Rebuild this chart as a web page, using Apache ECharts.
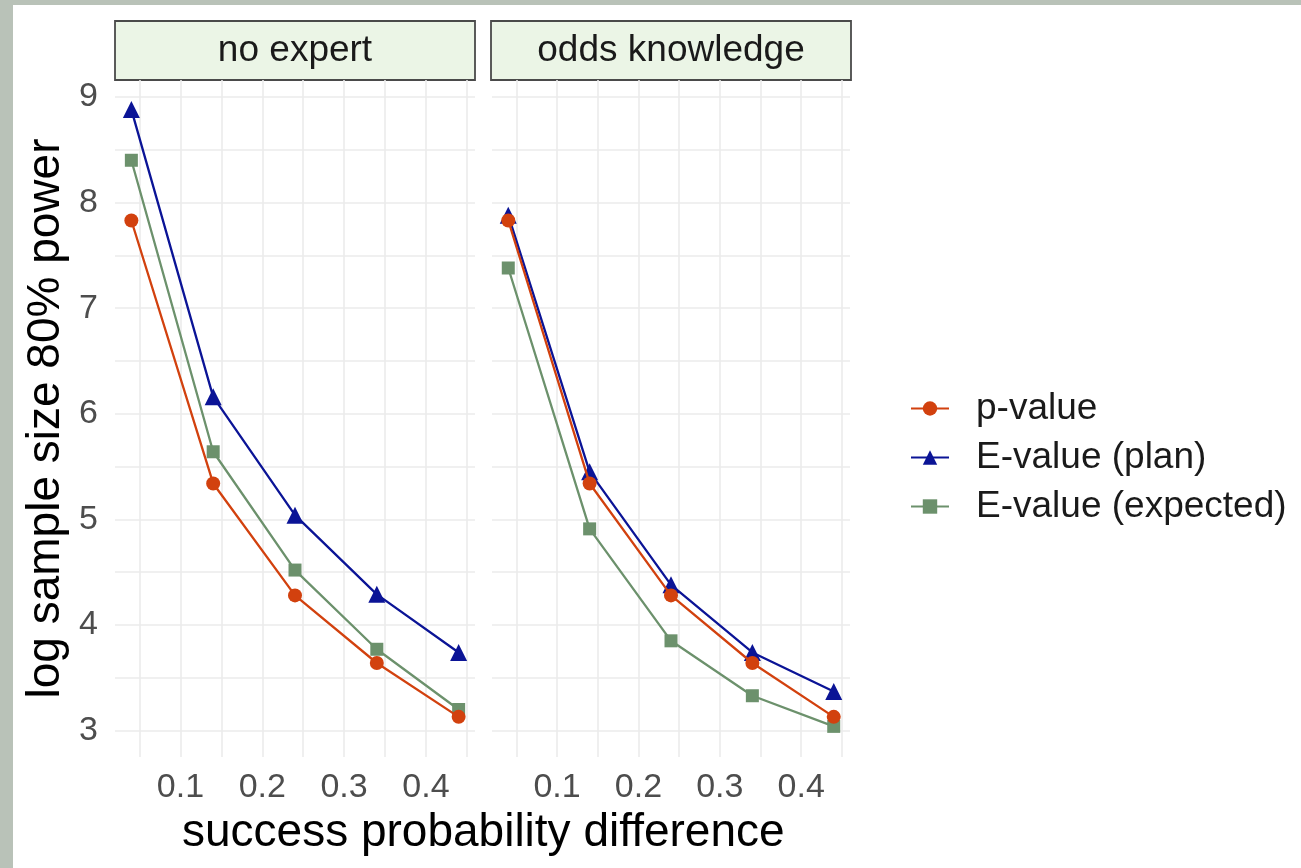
<!DOCTYPE html>
<html><head><meta charset="utf-8">
<script src="https://cdn.jsdelivr.net/npm/echarts@6/dist/echarts.min.js"></script>
<style>html,body{margin:0;padding:0;background:#fff}#c{width:1301px;height:868px}</style>
</head><body><div id="c"></div><script>
// ---- data ----
const panels = ['no expert', 'odds knowledge'];
const seriesNames = ['p-value', 'E-value (plan)', 'E-value (expected)'];
const xValues = [0.04, 0.14, 0.24, 0.34, 0.44];
const pValueNoExpert   = [7.83, 5.34, 4.28, 3.64, 3.13];
const planNoExpert     = [8.88, 6.16, 5.04, 4.29, 3.74];
const expectedNoExpert = [8.40, 5.64, 4.52, 3.77, 3.20];
const pValueOdds       = [7.83, 5.34, 4.28, 3.64, 3.13];
const planOdds         = [7.88, 5.45, 4.38, 3.74, 3.37];
const expectedOdds     = [7.38, 4.91, 3.85, 3.33, 3.04];
const xTickLabels = [0.1, 0.2, 0.3, 0.4];
const yTickLabels = [3, 4, 5, 6, 7, 8, 9];
const xTitle = 'success probability difference';
const yTitle = 'log sample size 80% power';

// ---- styling ----
const FONT = '"Liberation Sans", Arial, Helvetica, sans-serif';
const colors = ['#D2410E', '#0B1496', '#6C916C'];
const symbols = ['circle', 'triangle', 'rect'];
const symbolSizes = [14, 17, 13];
const GRID = '#EBEBEB', T = 'rgba(0,0,0,0)';
const grids = [
  {left: 115, top: 80, width: 360, height: 677},
  {left: 492, top: 80, width: 358, height: 677}
];
const panelData = [
  [pValueNoExpert, planNoExpert, expectedNoExpert],
  [pValueOdds, planOdds, expectedOdds]
];

function inList(v, list) { return list.some(t => Math.abs(t - v) < 1e-6); }

const xAxes = grids.map((g, i) => ({
  type: 'value', gridIndex: i, min: 0.02, max: 0.46, interval: 0.01,
  axisLine: {show: false}, axisTick: {show: false},
  axisLabel: {
    margin: 14, fontSize: 34, color: '#4D4D4D', fontFamily: FONT,
    formatter: v => inList(v, xTickLabels) ? (+v).toFixed(1) : ''
  },
  splitLine: {show: true, lineStyle: {width: 1.6, color: [T, T, T, GRID, T, T, T, T, GRID, T]}}
}));
const yAxes = grids.map((g, i) => ({
  type: 'value', gridIndex: i, min: 2.75, max: 9.16, interval: 0.25,
  axisLine: {show: false}, axisTick: {show: false},
  name: i === 0 ? yTitle : '', nameLocation: 'middle', nameGap: 46,
  nameTextStyle: {fontSize: 46, color: '#000', fontFamily: FONT},
  axisLabel: {
    show: i === 0, margin: 17, fontSize: 34, color: '#4D4D4D', fontFamily: FONT,
    formatter: v => inList(v, yTickLabels) ? String(Math.round(v)) : ''
  },
  splitLine: {show: true, lineStyle: {width: 1.6, color: [T, GRID, T, GRID]}}
}));

const series = [];
panelData.forEach((arrs, p) => {
  arrs.forEach((arr, s) => {
    series.push({
      type: 'line', name: seriesNames[s], xAxisIndex: p, yAxisIndex: p,
      data: xValues.map((x, k) => [x, arr[k]]),
      symbol: symbols[s], symbolSize: symbolSizes[s], showSymbol: true,
      lineStyle: {color: colors[s], width: 2.3},
      itemStyle: {color: colors[s]},
      animation: false, z: 3 + (s === 0 ? 1 : 0)
    });
  });
});

const graphic = [
  {type: 'rect', shape: {x: 0, y: 0, width: 13, height: 868}, style: {fill: '#B9C2B8'}, silent: true},
  {type: 'rect', shape: {x: 0, y: 0, width: 1301, height: 5}, style: {fill: '#B9C2B8'}, silent: true},
  {type: 'text', left: 482 - 300, top: 810, style: {text: xTitle, font: '46px ' + FONT, fill: '#000', width: 600, align: 'center'}}
];
const strips = [[115, 475], [491, 851]];
strips.forEach((s, i) => {
  graphic.push({type: 'rect', shape: {x: s[0], y: 21, width: s[1] - s[0], height: 59},
    style: {fill: '#EBF5E6', stroke: '#4A4A4A', lineWidth: 1.8}, silent: true});
  graphic.push({type: 'text', x: (s[0] + s[1]) / 2, y: 51,
    style: {text: panels[i], font: '37px ' + FONT, fill: '#1A1A1A', align: 'center', verticalAlign: 'middle'}});
});

const chart = echarts.init(document.getElementById('c'), null, {renderer: 'canvas'});
chart.setOption({
  backgroundColor: '#ffffff',
  animation: false,
  grid: grids,
  xAxis: xAxes,
  yAxis: yAxes,
  legend: {
    orient: 'vertical', left: 905, top: 385, itemWidth: 38, itemHeight: 18, itemGap: 12,
    data: seriesNames, selectedMode: false,
    textStyle: {fontSize: 37, color: '#1A1A1A', fontFamily: FONT, padding: [0, 0, 0, 22]}
  },
  graphic: graphic,
  series: series
});
</script></body></html>
